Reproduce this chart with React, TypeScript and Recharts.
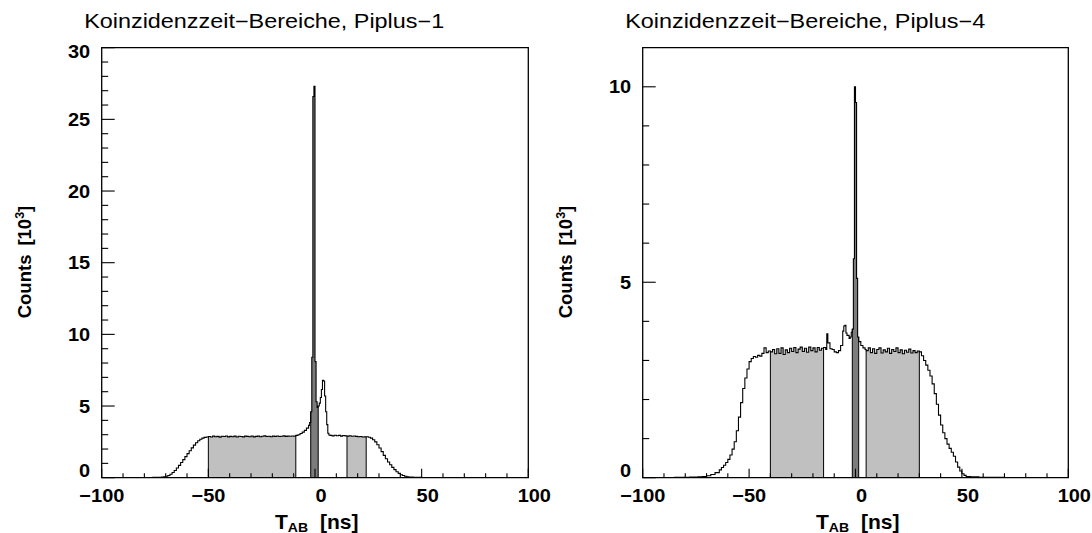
import React from "react";
import {
  ComposedChart,
  Line,
  Area,
  XAxis,
  YAxis,
  ReferenceLine,
  ReferenceArea,
} from "recharts";

// Piplus-1: lower bin edge [ns] and counts [10^3] of each bin
const p1Edges = [
  -100, -80, -76, -74, -72, -71, -70, -69, -68, -67, -66, -65, -64, -63, -62, -61, -60, -59, -58, -57, -56, -55, -54, -53, -52, -51,
  -50, -49, -48, -47, -46, -45, -44, -43, -42, -41, -40, -39, -38, -37, -36, -35, -34, -33, -32, -31, -30, -29, -28, -27, -26, -25,
  -24, -23, -22, -21, -20, -19, -18, -17, -16, -15, -14, -13, -12, -11, -10,
  -9, -8, -7, -6, -5, -4, -3, -2.5,
  -2, -1.5, -1, -0.5, 0, 0.5, 1,
  1.5, 2, 2.5, 3, 3.5, 4, 4.5, 5, 5.5, 6, 6.5,
  7, 8, 9, 10, 11, 12, 13, 14,
  15, 16, 17, 18, 19, 20, 21, 22, 23,
  24, 25, 26, 27, 28, 29, 30, 31, 32, 33, 34, 35, 36, 37, 38, 39, 40, 41, 42, 43, 44, 46, 48, 50, 60,
];
const p1Counts = [
  0, 0.01, 0.02, 0.03, 0.05, 0.07, 0.1, 0.15, 0.24, 0.36, 0.5, 0.68, 0.86, 1.06, 1.26, 1.47, 1.68, 1.88, 2.08, 2.27, 2.44, 2.58, 2.68, 2.76, 2.81, 2.84,
  2.87, 2.84, 2.9, 2.86, 2.88, 2.83, 2.89, 2.87, 2.91, 2.85, 2.88, 2.86, 2.9, 2.84, 2.89, 2.87, 2.85, 2.9, 2.88, 2.86, 2.91, 2.85, 2.88, 2.9, 2.86, 2.89,
  2.92, 2.87, 2.89, 2.86, 2.9, 2.88, 2.91, 2.87, 2.89, 2.92, 2.88, 2.9, 2.89, 2.91, 2.9,
  2.95, 3.0, 3.08, 3.18, 3.3, 3.46, 3.65, 3.85,
  4.6, 8.4, 26.6, 27.3, 8.1, 5.3, 4.9,
  5.0, 5.2, 5.6, 6.15, 6.8, 6.75, 5.7, 4.6, 3.7, 3.1, 2.98,
  2.95, 2.92, 2.96, 2.93, 2.95, 2.9, 2.94, 2.92,
  2.9, 2.93, 2.89, 2.91, 2.88, 2.86, 2.87, 2.84, 2.85,
  2.86, 2.82, 2.76, 2.65, 2.5, 2.3, 2.07, 1.82, 1.56, 1.32, 1.1, 0.9, 0.72, 0.56, 0.42, 0.3, 0.21, 0.15, 0.1, 0.07, 0.05, 0.03, 0.02, 0.01, 0,
];
const p1Windows = [[-50, -9], [15, 24]];
const p1Prompt = [-2, 1.5];

// Piplus-4
const p2Edges = [
  -100, -85, -78, -74, -72, -70, -68, -66, -64, -63, -62, -61, -60, -59, -58, -57, -56, -55, -54, -53, -52, -51, -50, -49, -48, -47, -46, -45, -44, -43, -42, -41,
  -40, -39, -38, -37, -36, -35, -34, -33, -32, -31, -30, -29, -28, -27, -26, -25, -24, -23, -22, -21, -20, -19, -18, -17, -16,
  -15, -14, -13.5, -13, -12, -11, -10, -9, -8, -7, -6, -5.5, -5, -4.5, -4, -3, -2.5, -2,
  -1.5, -1, -0.5, 0, 0.5, 1,
  1.5, 2.5, 3.5, 4.5,
  5, 6, 7, 8, 9, 10, 11, 12, 13, 14, 15, 16, 17, 18, 19, 20, 21, 22, 23, 24, 25, 26, 27, 28, 29,
  30, 31, 32, 33, 34, 35, 36, 37, 38, 39, 40, 41, 42, 43, 44, 45, 46, 47, 48, 49, 50, 51, 52, 54, 58, 70,
];
const p2Counts = [
  0, 0.01, 0.015, 0.02, 0.03, 0.05, 0.08, 0.13, 0.2, 0.26, 0.32, 0.39, 0.47, 0.58, 0.73, 0.92, 1.2, 1.55, 1.92, 2.28, 2.55, 2.78, 2.97, 3.05, 3.1, 3.08, 3.13, 3.11, 3.18, 3.32, 3.2, 3.24,
  3.22, 3.28, 3.17, 3.3, 3.18, 3.32, 3.15, 3.27, 3.2, 3.31, 3.23, 3.33, 3.2, 3.29, 3.34, 3.23, 3.31, 3.21, 3.34, 3.25, 3.32, 3.22, 3.33, 3.26, 3.31,
  3.33, 3.28, 3.68, 3.45, 3.3, 3.28, 3.22, 3.2, 3.25, 3.38, 3.75, 3.88, 3.9, 3.7, 3.64, 3.56, 3.6, 3.72,
  3.8, 5.6, 10.0, 9.6, 5.1, 3.6,
  3.48, 3.38, 3.32, 3.28,
  3.25, 3.32, 3.2, 3.3, 3.18, 3.28, 3.32, 3.19, 3.27, 3.22, 3.31, 3.18, 3.28, 3.23, 3.32, 3.2, 3.27, 3.17, 3.26, 3.21, 3.29, 3.19, 3.25, 3.2, 3.24,
  3.22, 3.12, 3.0, 2.88, 2.75, 2.6, 2.4, 2.15, 1.88, 1.6, 1.35, 1.15, 1.0, 0.86, 0.75, 0.65, 0.55, 0.4, 0.27, 0.17, 0.1, 0.06, 0.03, 0.02, 0.01, 0,
];
const p2Windows = [[-40, -15], [5, 30]];
const p2Prompt = [-1.5, 1.5];

const xTicks = [-100, -90, -80, -70, -60, -50, -40, -30, -20, -10, 0, 10, 20, 30, 40, 50, 60, 70, 80, 90, 100];
const xLabels = [-100, -50, 0, 50, 100];
const p1YTicks = [0, 1, 2, 3, 4, 5, 6, 7, 8, 9, 10, 11, 12, 13, 14, 15, 16, 17, 18, 19, 20, 21, 22, 23, 24, 25, 26, 27, 28, 29, 30];
const p1YLabels = [0, 5, 10, 15, 20, 25, 30];
const p2YTicks = [0, 1, 2, 3, 4, 5, 6, 7, 8, 9, 10];
const p2YLabels = [0, 5, 10];

const FONT = '"Liberation Sans", Arial, Helvetica, sans-serif';
const LABEL_SIZE = 18.5;
const LABEL_SX = 1.08;
const TITLE_SIZE = 19.5;
const TITLE_SX = 1.2;
const CHART_W = 546;
const CHART_H = 533;
const PLOT_TOP = 47.7;
const PLOT_BOTTOM = 477.7;
const X_AXIS_H = 40;
const Y_AXIS_W = 60;
const LIGHT = "#c0c0c0";
const DARK = "#7c7c7c";

type Row = Record<string, number | null>;

// one row per bin edge; the window columns carry the count only inside the window
function buildRows(edges: number[], counts: number[], spans: number[][]): Row[] {
  const rows: Row[] = edges.map((t, i) => ({ t, n: counts[i] }));
  rows.push({ t: 100, n: counts[counts.length - 1] });
  spans.forEach(([a, b], k) => {
    rows.forEach((r, i) => {
      const t = r.t as number;
      r[`w${k}`] = t >= a && t < b ? r.n : t === b ? rows[i - 1].n : null;
    });
  });
  return rows;
}

interface PanelProps {
  title: string;
  edges: number[];
  counts: number[];
  windows: number[][];
  prompt: number[];
  yMax: number;
  yTicks: number[];
  yLabels: number[];
  plotLeft: number;
  plotRight: number;
}

function Panel({ title, edges, counts, windows, prompt, yMax, yTicks, yLabels, plotLeft, plotRight }: PanelProps) {
  const spans = [...windows, prompt];
  const rows = buildRows(edges, counts, spans);
  const edgeLines = spans.flatMap(([a, b]) => [
    { x: a, h: counts[edges.indexOf(a)] },
    { x: b, h: counts[edges.indexOf(b) - 1] },
  ]);

  const renderXTick = (props: any) => {
    const v = props.payload.value as number;
    const x = props.payload.coordinate as number;
    const major = xLabels.includes(v);
    // digits are centred a little right of the tick, a minus sign hangs to the left
    const digitsHalf = (String(Math.abs(v)).length * 0.556 * LABEL_SIZE) / 2;
    return (
      <g>
        <line x1={x} x2={x} y1={PLOT_BOTTOM} y2={PLOT_BOTTOM - (major ? 9 : 4.5)} stroke="#000" strokeWidth={1.1} />
        {major && (
          <text
            transform={`translate(${x + 6},${PLOT_BOTTOM + 24}) scale(${LABEL_SX},1)`}
            x={digitsHalf}
            textAnchor="end"
            fontFamily={FONT}
            fontSize={LABEL_SIZE}
            fontWeight="bold"
            fill="#000"
          >
            {v < 0 ? `\u2212${Math.abs(v)}` : v}
          </text>
        )}
      </g>
    );
  };

  const renderYTick = (props: any) => {
    const v = props.payload.value as number;
    const y = props.payload.coordinate as number;
    const major = yLabels.includes(v);
    const shift = v === 0 ? -7 : v === yMax ? 4 : 0;
    return (
      <g>
        <line x1={plotLeft} x2={plotLeft + (major ? 13 : 6.5)} y1={y} y2={y} stroke="#000" strokeWidth={1.1} />
        {major && (
          <text
            transform={`translate(${plotLeft - 11.5},${y + 6.6 + shift}) scale(${LABEL_SX},1)`}
            textAnchor="end"
            fontFamily={FONT}
            fontSize={LABEL_SIZE}
            fontWeight="bold"
            fill="#000"
          >
            {v}
          </text>
        )}
      </g>
    );
  };

  return (
    <div style={{ position: "relative", width: CHART_W, height: CHART_H }}>
      <ComposedChart
        width={CHART_W}
        height={CHART_H}
        data={rows}
        margin={{
          top: PLOT_TOP,
          bottom: CHART_H - PLOT_BOTTOM - X_AXIS_H,
          left: plotLeft - Y_AXIS_W,
          right: CHART_W - plotRight,
        }}
      >
        <XAxis
          dataKey="t"
          type="number"
          domain={[-100, 100]}
          ticks={xTicks}
          interval={0}
          height={X_AXIS_H}
          axisLine={false}
          tickLine={false}
          tickSize={0}
          tickMargin={0}
          tick={renderXTick}
          allowDataOverflow
        />
        <YAxis
          type="number"
          domain={[0, yMax]}
          ticks={yTicks}
          interval={0}
          width={Y_AXIS_W}
          axisLine={false}
          tickLine={false}
          tickSize={0}
          tickMargin={0}
          tick={renderYTick}
          allowDataOverflow
        />
        {windows.map((_, k) => (
          <Area
            key={k}
            type="stepAfter"
            dataKey={`w${k}`}
            stroke="none"
            fill={LIGHT}
            fillOpacity={1}
            isAnimationActive={false}
          />
        ))}
        <Area
          type="stepAfter"
          dataKey={`w${windows.length}`}
          stroke="none"
          fill={DARK}
          fillOpacity={1}
          isAnimationActive={false}
        />
        {edgeLines.map((e, i) => (
          <ReferenceLine
            key={i}
            segment={[
              { x: e.x, y: 0 },
              { x: e.x, y: e.h },
            ]}
            stroke="#000"
            strokeWidth={1}
          />
        ))}
        <Line
          type="stepAfter"
          dataKey="n"
          stroke="#000"
          strokeWidth={1.1}
          dot={false}
          isAnimationActive={false}
        />
        <ReferenceArea x1={-100} x2={100} y1={0} y2={yMax} fill="none" fillOpacity={0} stroke="#000" strokeWidth={1.3} />
      </ComposedChart>
      <svg
        width={CHART_W}
        height={CHART_H}
        style={{ position: "absolute", left: 0, top: 0, pointerEvents: "none", overflow: "visible" }}
      >
        <text
          transform={`translate(${plotLeft - 17.5},28.3) scale(${TITLE_SX},1)`}
          fontFamily={FONT}
          fontSize={TITLE_SIZE}
          fill="#000"
        >
          {title}
        </text>
        <text
          transform={`translate(${plotLeft - 71},262) rotate(-90)`}
          textAnchor="middle"
          fontFamily={FONT}
          fontSize={LABEL_SIZE}
          fontWeight="bold"
          fill="#000"
        >
          Counts
          <tspan dx={9}>[10</tspan>
          <tspan dy={-7} fontSize={12.5}>3</tspan>
          <tspan dy={7}>]</tspan>
        </text>
        <g transform={`translate(${plotLeft + 173.3},528.5) scale(${LABEL_SX},1)`}>
          <text fontFamily={FONT} fontSize={LABEL_SIZE + 1} fontWeight="bold" fill="#000">
            T<tspan fontSize={13} dy={3}>AB</tspan>
            <tspan dx={11} dy={-3}>[ns]</tspan>
          </text>
        </g>
      </svg>
    </div>
  );
}

export default function App() {
  return (
    <div style={{ position: "absolute", left: 0, top: 0, width: 1092, height: 533, background: "#fff", display: "flex" }}>
      <style>{".recharts-surface, .recharts-wrapper { overflow: visible !important; }"}</style>
      <Panel
        title={"Koinzidenzzeit\u2212Bereiche, Piplus\u22121"}
        edges={p1Edges}
        counts={p1Counts}
        windows={p1Windows}
        prompt={p1Prompt}
        yMax={30}
        yTicks={p1YTicks}
        yLabels={p1YLabels}
        plotLeft={101.7}
        plotRight={528.3}
      />
      <Panel
        title={"Koinzidenzzeit\u2212Bereiche, Piplus\u22124"}
        edges={p2Edges}
        counts={p2Counts}
        windows={p2Windows}
        prompt={p2Prompt}
        yMax={11}
        yTicks={p2YTicks}
        yLabels={p2YLabels}
        plotLeft={96.7}
        plotRight={522.3}
      />
    </div>
  );
}
